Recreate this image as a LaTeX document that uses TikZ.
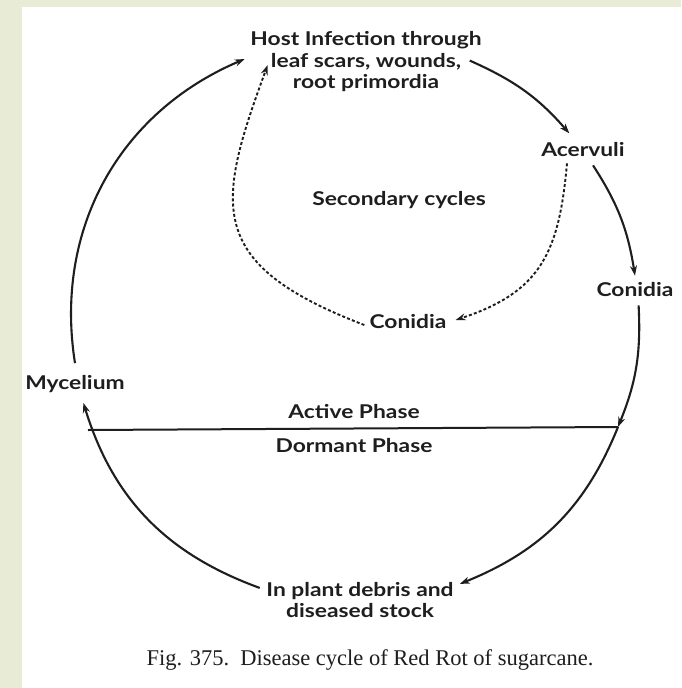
\documentclass[tikz,border=0pt]{standalone}
\usepackage{fontspec}
\setmainfont{Liberation Serif}
\newfontfamily\gill[FakeStretch=1.2]{Lato}
\usetikzlibrary{arrows.meta}
\definecolor{bggreen}{HTML}{E8ECD6}
\definecolor{ink}{HTML}{1E1E1E}
\begin{document}
\begin{tikzpicture}[x=1pt,y=1pt,
  lbl/.style={font=\gill\bfseries\fontsize{19}{21.5}\selectfont, text=ink, inner sep=0pt, align=center},
  cyc/.style={draw=ink, line width=2.1pt, -{Stealth[length=10pt,width=7pt]}},
  seccyc/.style={cyc, line width=1.9pt, dash pattern=on 3pt off 2.2pt},
  divider/.style={draw=ink, line width=2pt},
  capt/.style={font=\fontsize{22.5}{26}\selectfont, text=ink, inner sep=0pt}
]
\useasboundingbox (0,0) rectangle (681,-688);
\fill[bggreen] (0,0) rectangle (681,-688);
\fill[white] (22,-7) rectangle (681,-688);

% nodes
\node[lbl] (host) at (366,-62) {Host Infection through\\leaf scars, wounds,\\root primordia};
\node[lbl] (acerv) at (583,-150) {Acervuli};
\node[lbl] (sec) at (399,-200) {Secondary cycles};
\node[lbl] (conI) at (408,-322) {Conidia};
\node[lbl] (conR) at (635,-290) {Conidia};
\node[lbl] (myc) at (75,-384) {Mycelium};
\node[lbl] (act) at (354,-412) {Active Phase};
\node[lbl] (dor) at (354,-446) {Dormant Phase};
\node[lbl] (debris) at (360,-600) {In plant debris and\\diseased stock};
\node[capt] (cap) at (370,-660) {Fig. 375.\ \ Disease cycle of Red Rot of sugarcane.};

\coordinate (lineL) at (88,-430);
\coordinate (lineR) at (618,-427);

% divider
\draw[divider] (lineL) -- (lineR);

% main cycle
\draw[cyc] ([yshift=12pt]myc.north) to[out=99,in=203] ([xshift=-5.5pt,yshift=3pt]host.west);
\draw[cyc] ([xshift=-12pt,yshift=1.4pt]host.east) to[out=-24,in=131] ([xshift=-13.7pt,yshift=9.3pt]acerv.north);
\draw[cyc] ([xshift=10pt,yshift=-8pt]acerv.south) to[out=-57,in=99] ([yshift=7pt]conR.north);
\draw[cyc] ([xshift=3.6pt,yshift=-8pt]conR.south) to[out=-87,in=68] (lineR);
\draw[cyc] (lineR) to[out=-112,in=22] ([xshift=6pt,yshift=-2pt]debris.north east);
\draw[cyc] ([xshift=-6.5pt,yshift=-6pt]debris.north west) to[out=160,in=-73] ([xshift=8.4pt,yshift=-10pt]myc.south);

% secondary cycles
\draw[seccyc] ([xshift=-16pt,yshift=-6pt]acerv.south) .. controls (559,-253) and (540.6,-292) .. ([xshift=9pt,yshift=2pt]conI.east);
\draw[seccyc] ([xshift=-5pt,yshift=-3pt]conI.west) .. controls (205,-264) and (215.7,-206) .. ([xshift=17.5pt,yshift=-3pt]host.west);
\end{tikzpicture}
\end{document}
